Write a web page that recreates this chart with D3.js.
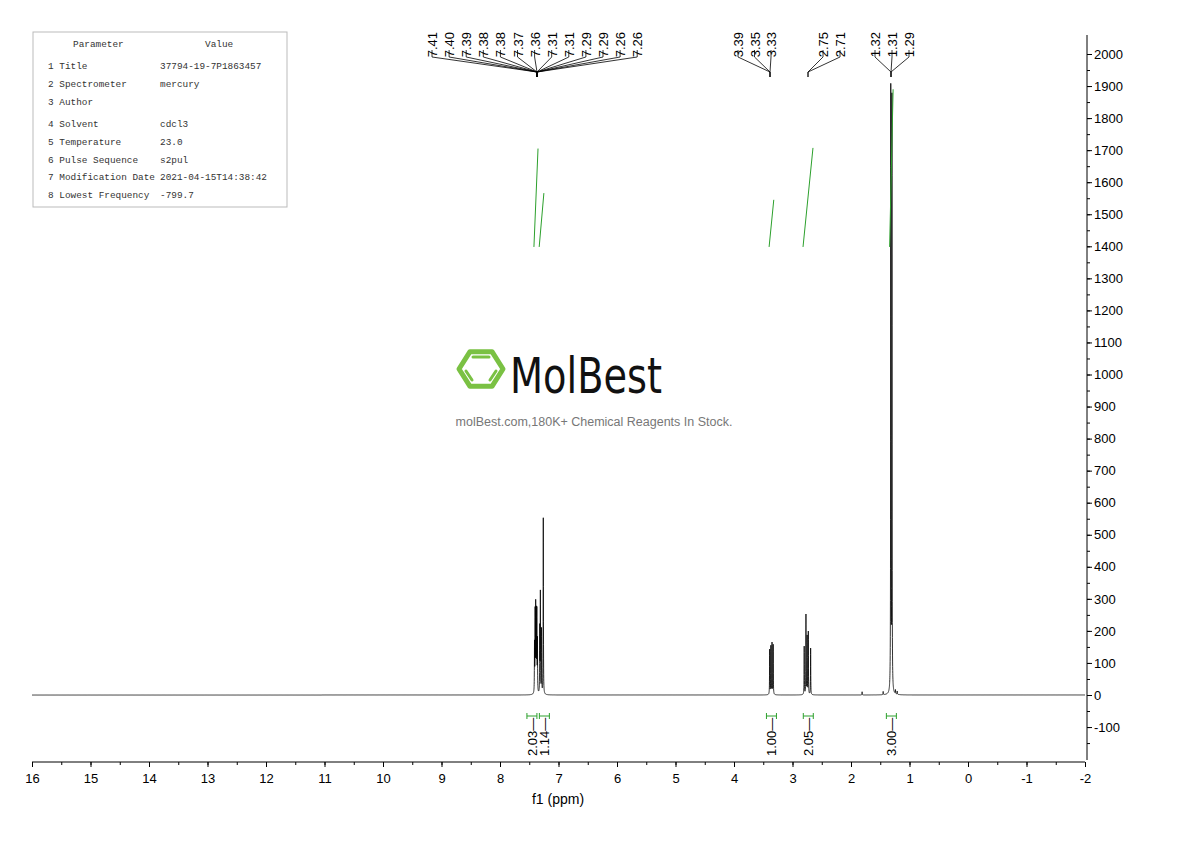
<!DOCTYPE html>
<html><head><meta charset="utf-8">
<script src="https://cdn.jsdelivr.net/npm/d3@7"></script>
<style>body{margin:0;background:#fff}svg{display:block}</style></head>
<body><svg id="c" width="1190" height="841"></svg>
<script>
// ---- data ----
const peakPpm =    [7.41,7.40,7.39,7.38,7.37,7.36,7.32,7.31,7.29,7.26, 3.39,3.37,3.35,3.33, 2.80,2.77,2.75,2.73,2.69, 1.81, 1.45,1.32,1.30,1.24,1.21];
const peakHeight = [150, 245, 262, 240, 245, 160, 200, 310, 200, 550,  140, 150, 160, 155,  150, 248, 180, 195, 145,  10,   10, 1880,1850, 12, 10];
const peakLabels1 = ["7.41","7.40","7.39","7.38","7.38","7.37","7.36","7.31","7.31","7.29","7.29","7.26","7.26"];
const peakLabels2 = ["3.39","3.35","3.33"];
const peakLabels3 = ["2.75","2.71"];
const peakLabels4 = ["1.32","1.31","1.29"];
const integralFrom = [7.42, 7.33, 3.40, 2.82, 1.34];
const integralTo =   [7.35, 7.25, 3.32, 2.65, 1.28];
const integralLow =  [1398, 1398, 1398, 1398, 1398];
const integralHigh = [1705, 1566, 1545, 1707, 1890];
const integralVals = ["2.03","1.14","1.00","2.05","3.00"];
const integralPos =  [7.42, 7.31, 3.36, 2.73, 1.31];
const xTicks = [16,15,14,13,12,11,10,9,8,7,6,5,4,3,2,1,0,-1,-2];
const yTicks = [-100,0,100,200,300,400,500,600,700,800,900,1000,1100,1200,1300,1400,1500,1600,1700,1800,1900,2000];
const params = [["Parameter","Value"],["1 Title","37794-19-7P1863457"],["2 Spectrometer","mercury"],["3 Author",""],["4 Solvent","cdcl3"],["5 Temperature","23.0"],["6 Pulse Sequence","s2pul"],["7 Modification Date","2021-04-15T14:38:42"],["8 Lowest Frequency","-799.7"]];

const svg = d3.select("#c");
const x = d3.scaleLinear().domain([16,-2]).range([32,1085]);
const y = d3.scaleLinear().domain([0,2000]).range([695,54]);
const sans = "Liberation Sans, Arial, sans-serif";

// spectrum line: lorentzian sum of read peaks
const w = 0.0025;
const pts = [];
for (let p = 16; p >= -2; p -= 0.001) {
  let v = 0;
  for (let i=0;i<peakPpm.length;i++){ const d=(p-peakPpm[i])/w; v += peakHeight[i]/(1+d*d); }
  pts.push([p, v]);
}
svg.append("path").datum(pts).attr("fill","none").attr("stroke","#000").attr("stroke-width",0.8)
  .attr("d", d3.line().x(d=>x(d[0])).y(d=>y(d[1])));

// x axis
const xa = svg.append("g").attr("transform","translate(0,762)")
  .call(d3.axisBottom(x).tickValues(xTicks).tickSize(5).tickFormat(d=>d));
xa.select(".domain").attr("d","M32,0H1085");
xa.selectAll("text").attr("font-family",sans).attr("font-size",13).attr("dy","1.0em");
svg.append("g").attr("transform","translate(0,762)").call(d3.axisBottom(x).tickValues(d3.range(16,-2,-0.5)).tickSize(3).tickFormat(""))
  .select(".domain").remove();
svg.append("text").attr("x",558).attr("y",804).attr("text-anchor","middle").attr("font-family",sans).attr("font-size",14).text("f1 (ppm)");

// y axis
const ya = svg.append("g").attr("transform","translate(1087,0)")
  .call(d3.axisRight(y).tickValues(yTicks).tickSize(5).tickFormat(d=>d));
ya.select(".domain").attr("d","M0,35V760");
ya.selectAll("text").attr("font-family",sans).attr("font-size",13).attr("x",7);
svg.append("g").attr("transform","translate(1087,0)").call(d3.axisRight(y).tickValues(d3.range(-150,2050,50)).tickSize(3).tickFormat(""))
  .select(".domain").remove();

// integral curves
integralFrom.forEach((f,i)=>{
  svg.append("line").attr("x1",x(f)).attr("x2",x(integralTo[i])).attr("y1",y(integralLow[i])).attr("y2",y(integralHigh[i]))
    .attr("stroke","#2ca02c").attr("stroke-width",1);
});
// integral labels
integralPos.forEach((p,i)=>{
  const cx = x(p) + (i===0?-2:(i===1?4:0));
  svg.append("path").attr("d",`M${cx-5},713V719M${cx+5},713V719M${cx-5},716H${cx+5}`).attr("stroke","#2ca02c").attr("fill","none");
  svg.append("text").attr("transform",`translate(${cx+5},756) rotate(-90)`).attr("font-family",sans).attr("font-size",13).text(integralVals[i]+"—");
});

// peak labels
function labelGroup(labels, x0, dx, target){
  labels.forEach((t,i)=>{
    const lx = x0 + i*dx;
    svg.append("text").attr("transform",`translate(${lx+5},32) rotate(-90)`).attr("text-anchor","end")
      .attr("font-family",sans).attr("font-size",13).text(t);
    svg.append("path").attr("d",`M${lx},50V57L${target},72V77`).attr("stroke","#000").attr("fill","none").attr("stroke-width",0.8);
  });
}
labelGroup(peakLabels1, 432, 17.1, 537);
labelGroup(peakLabels2, 738, 16.5, 770);
labelGroup(peakLabels3, 823, 17, 808);
labelGroup(peakLabels4, 875, 17, 891);

// parameter table
const tb = svg.append("g");
const rowY = [47,69,87,105,127,145,163,180,198];
tb.append("rect").attr("x",33).attr("y",32).attr("width",254).attr("height",175).attr("fill","#fff").attr("stroke","#bbb");
params.forEach((r,i)=>{
  const yy = rowY[i];
  tb.append("text").attr("x", i===0?73:48).attr("y",yy).attr("font-family","Liberation Mono, DejaVu Sans Mono, monospace").attr("font-size",9.4).attr("fill","#333").text(r[0]);
  tb.append("text").attr("x", i===0?205:160).attr("y",yy).attr("font-family","Liberation Mono, DejaVu Sans Mono, monospace").attr("font-size",9.4).attr("fill","#333").text(r[1]);
});

// watermark logo
const lg = svg.append("g").attr("transform","translate(481,369)");
const hex = d3.range(6).map(k=>{const a=Math.PI/3*k; return [22*Math.cos(a), 20*Math.sin(a)];});
lg.append("polygon").attr("points",hex.map(p=>p.join(",")).join(" ")).attr("fill","none").attr("stroke","#7ac143").attr("stroke-width",5).attr("stroke-linejoin","round");
lg.append("line").attr("x1",-8).attr("x2",8).attr("y1",-12).attr("y2",-12).attr("stroke","#7ac143").attr("stroke-width",3).attr("stroke-linecap","round");
lg.append("line").attr("x1",-15).attr("x2",-9).attr("y1",2).attr("y2",11).attr("stroke","#7ac143").attr("stroke-width",3).attr("stroke-linecap","round");
lg.append("line").attr("x1",15).attr("x2",9).attr("y1",2).attr("y2",11).attr("stroke","#7ac143").attr("stroke-width",3).attr("stroke-linecap","round");
svg.append("text").attr("x",510).attr("y",393).attr("font-family","DejaVu Sans Condensed, Liberation Sans Narrow, sans-serif").attr("font-size",50)
  .attr("textLength",152).attr("lengthAdjust","spacingAndGlyphs").attr("fill","#111").text("MolBest");
svg.append("text").attr("x",594).attr("y",426).attr("text-anchor","middle").attr("font-family",sans).attr("font-size",12.5).attr("fill","#777").text("molBest.com,180K+ Chemical Reagents In Stock.");
</script></body></html>
